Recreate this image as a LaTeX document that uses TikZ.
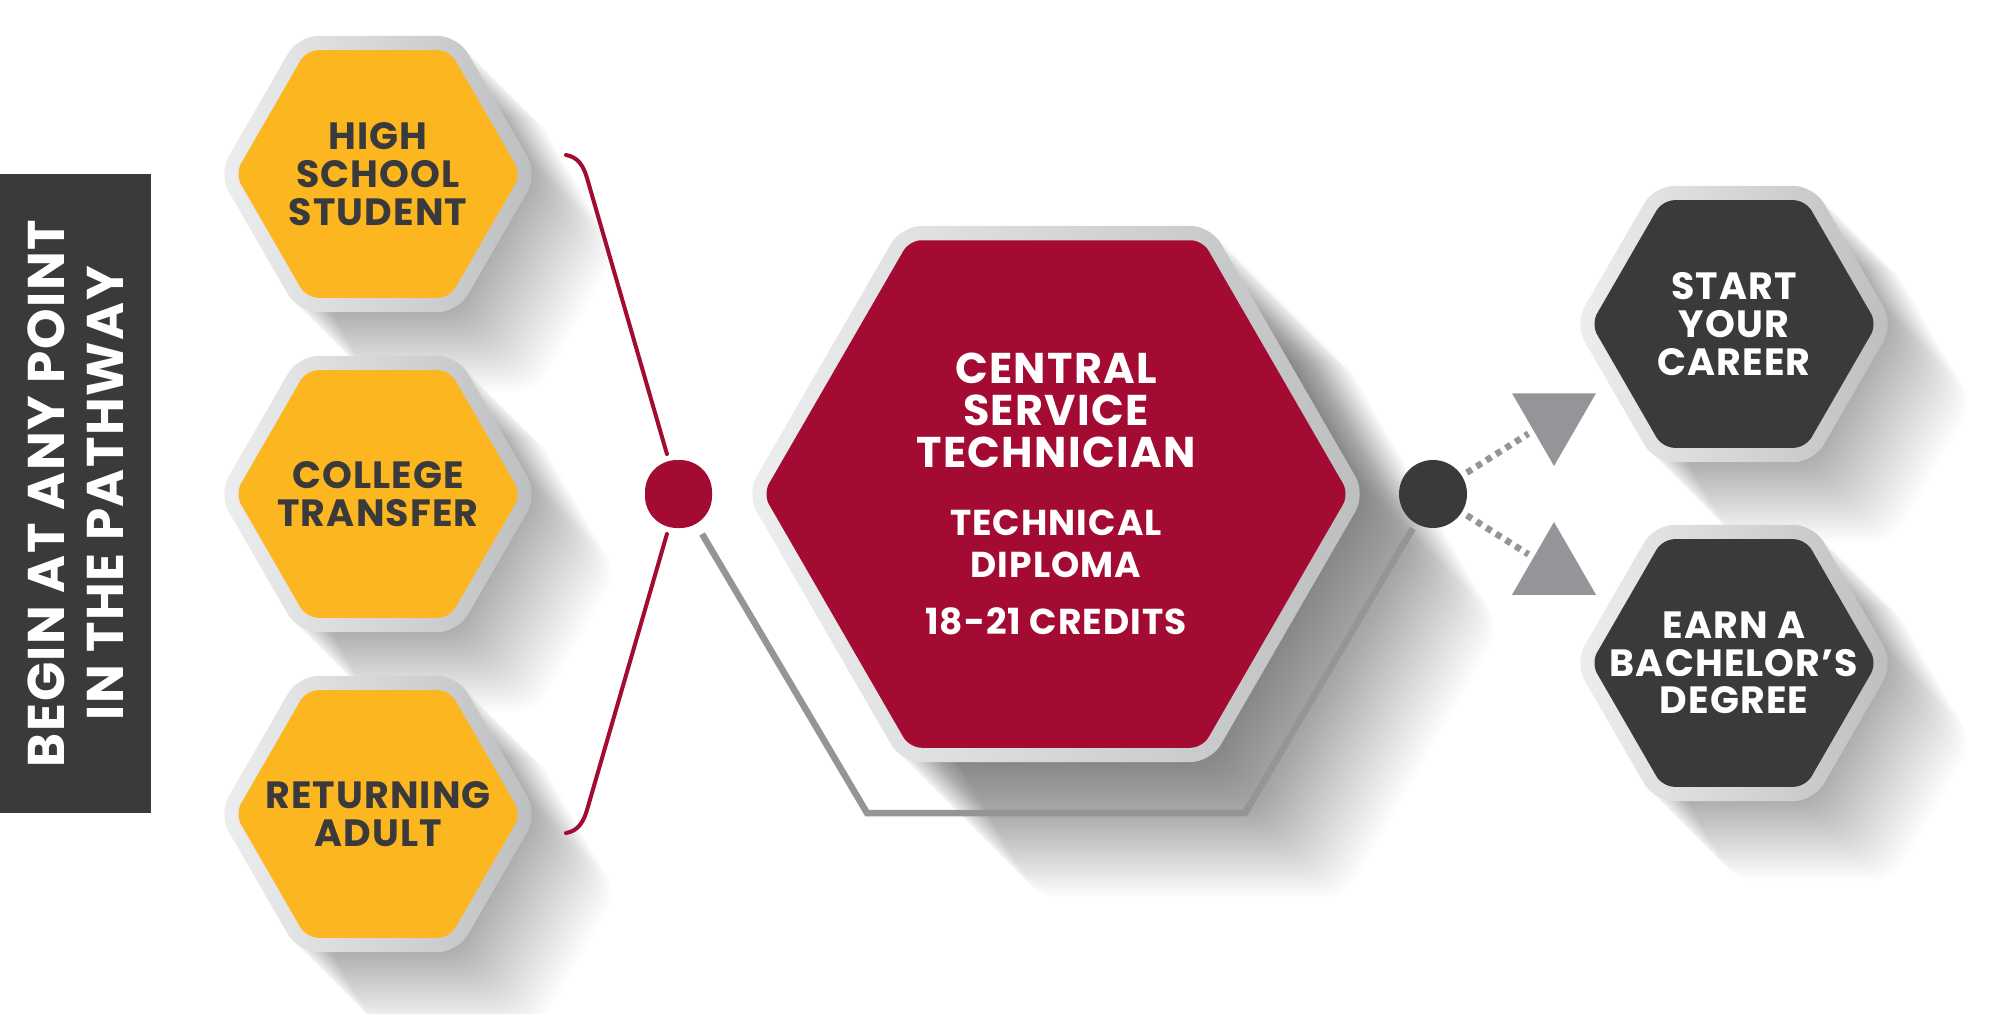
\documentclass[tikz,border=0pt]{standalone}
\usepackage{fontspec}
\setmainfont{Poppins}[LetterSpace=3]
\usetikzlibrary{shapes.geometric,calc}
\definecolor{pathyellow}{HTML}{FCB61F}
\definecolor{pathred}{HTML}{A30B33}
\definecolor{pathdark}{HTML}{3A3A3C}
\definecolor{pathgrey}{HTML}{939598}
\definecolor{rimlight}{HTML}{EDEEEF}
\definecolor{rimdark}{HTML}{BCBEC0}
\tikzset{
  hexrim/.style={regular polygon, regular polygon sides=6, inner sep=0pt, minimum size=#1, rounded corners=20pt, left color=rimlight, right color=rimdark},
  hexshadow/.style={regular polygon, regular polygon sides=6, inner sep=0pt, minimum size=#1, rounded corners=20pt, fill=black},
  hexcore/.style={regular polygon, regular polygon sides=6, inner sep=0pt, minimum size=#1, rounded corners=12pt},
  smalltext/.style={align=center, inner sep=0pt, font=\bfseries\fontsize{38}{37.7}\selectfont},
  startdot/.style={rectangle, rounded corners=32pt, minimum width=67pt, minimum height=68pt, inner sep=0pt, outer sep=6pt, fill=pathred},
  enddot/.style={circle, minimum size=68pt, inner sep=0pt, outer sep=6pt, fill=pathdark},
  pointer/.style={regular polygon, regular polygon sides=3, minimum size=97pt, inner sep=0pt, outer sep=6pt, fill=pathgrey},
  bracket/.style={draw=pathred, line width=4pt, line cap=round},
  pathline/.style={draw=pathgrey, line width=6.5pt, line join=miter},
  dotline/.style={draw=pathgrey, line width=6.5pt, dash pattern=on 6pt off 5.5pt}
}
\begin{document}
\begin{tikzpicture}[x=1pt, y=-1pt]
  \useasboundingbox (0,0) rectangle (2000,1014);
  \fill[white] (0,0) rectangle (2000,1014);
  % centres
  \coordinate (hs) at (378,174);
  \coordinate (ct) at (378,494);
  \coordinate (ra) at (378,814);
  \coordinate (cst) at (1056,494);
  \coordinate (sc) at (1734,324);
  \coordinate (bd) at (1734,663);
  % long shadows
  \foreach \c in {hs,ct,ra,sc,bd}
    \foreach \d in {1,...,40}
      \node[hexshadow=319pt, fill opacity=0.009] at ($(\c)+(2*\d,2*\d)$) {};
  \foreach \d in {1,...,45}
    \node[hexshadow=619pt, fill opacity=0.011] at ($(cst)+(3*\d,3*\d)$) {};
  % dots and pointers
  \node[startdot] (rdot) at (678.5,494) {};
  \node[enddot] (ddot) at (1433,494) {};
  \node[pointer, shape border rotate=180] (tricareer) at (1554,417.5) {};
  \node[pointer] (tridegree) at (1554,570.5) {};
  \coordinate (gl) at (867,813);
  \coordinate (gr) at (1245,813);
  \coordinate (btop) at (566,155);
  \coordinate (btopbend) at (587,178);
  \coordinate (bbot) at (566,833);
  \coordinate (bbotbend) at (587,810);
  \draw[pathline] (rdot) -- (gl) -- (gr) -- (ddot);
  \draw[bracket] (btop) .. controls (578,157) and (583.5,166) .. (btopbend) -- (rdot);
  \draw[bracket] (rdot) -- (bbotbend) .. controls (583.5,822) and (578,831) .. (bbot);
  \draw[dotline] (ddot) -- (tricareer);
  \draw[dotline] (ddot) -- (tridegree);
  % entry points
  \node[hexrim=319pt] (hsrim) at (hs) {};
  \node[hexcore=286pt, fill=pathyellow] (hsbox) at (hs) {};
  \node[smalltext, text=pathdark] (hstext) at (hs) {HIGH\\SCHOOL\\STUDENT};
  \node[hexrim=319pt] (ctrim) at (ct) {};
  \node[hexcore=286pt, fill=pathyellow] (ctbox) at (ct) {};
  \node[smalltext, text=pathdark] (cttext) at (ct) {COLLEGE\\TRANSFER};
  \node[hexrim=319pt] (rarim) at (ra) {};
  \node[hexcore=286pt, fill=pathyellow] (rabox) at (ra) {};
  \node[smalltext, text=pathdark] (ratext) at (ra) {RETURNING\\ADULT};
  % programme
  \node[hexrim=619pt] (cstrim) at (cst) {};
  \node[hexcore=586pt, fill=pathred] (cstbox) at (cst) {};
  \node[align=center, inner sep=0pt, text=white, font=\bfseries\fontsize{36}{42}\selectfont] (csttext) at (cst)
    {{\fontsize{43}{42}\selectfont CENTRAL}\\{\fontsize{43}{42}\selectfont SERVICE}\\{\fontsize{43}{42}\selectfont TECHNICIAN}\\[26pt]TECHNICAL\\DIPLOMA\\[15.6pt]18-21 CREDITS};
  % outcomes
  \node[hexrim=319pt] (scrim) at (sc) {};
  \node[hexcore=286pt, fill=pathdark] (scbox) at (sc) {};
  \node[smalltext, text=white] (sctext) at (sc) {START\\YOUR\\CAREER};
  \node[hexrim=319pt] (bdrim) at (bd) {};
  \node[hexcore=286pt, fill=pathdark] (bdbox) at (bd) {};
  \node[smalltext, text=white] (bdtext) at (bd) {EARN A\\BACHELOR’S\\DEGREE};
  % banner
  \node[rotate=90, minimum width=639pt, minimum height=151pt, inner sep=0pt, fill=pathdark, text=white, align=center,
    font=\bfseries\fontsize{51.6}{58.5}\selectfont] (banner) at (75.5,493.5) {BEGIN AT ANY POINT\\IN THE PATHWAY};
\end{tikzpicture}
\end{document}
